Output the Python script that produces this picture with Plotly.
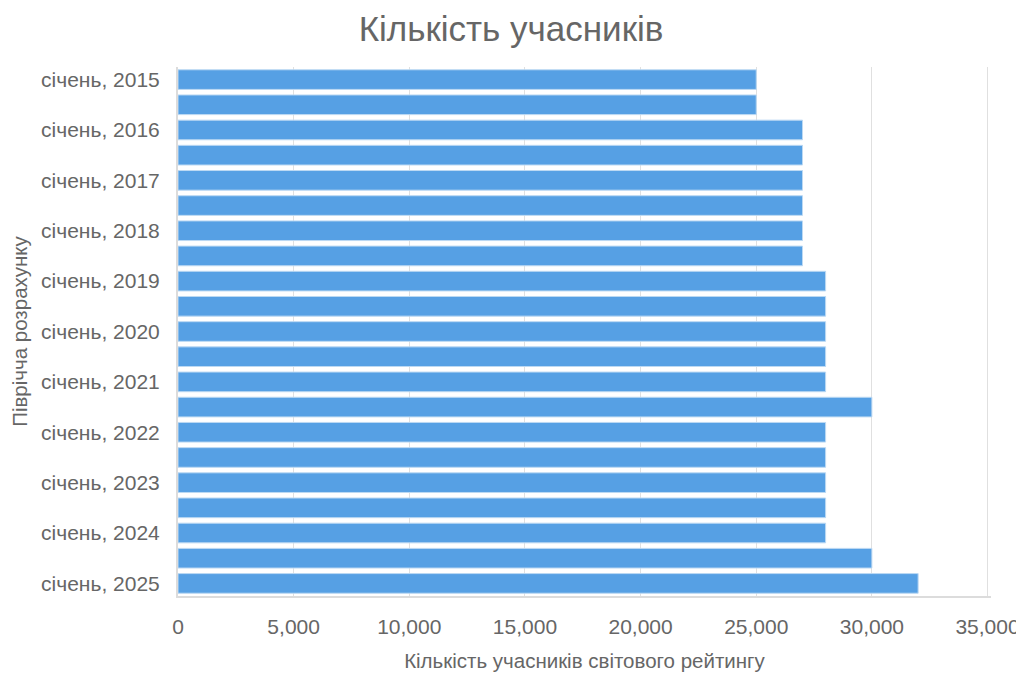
import plotly.graph_objects as go

periods = []
for year in range(2015, 2026):
    periods.append("січень, " + str(year))
    if year < 2025:
        periods.append("липень, " + str(year))

participants = [25000, 25000, 27000, 27000, 27000, 27000, 27000, 27000,
                28000, 28000, 28000, 28000, 28000, 30000, 28000, 28000,
                28000, 28000, 28000, 30000, 32000]

january_labels = [p for p in periods if p.startswith("січень")]

x_ticks = [0, 5000, 10000, 15000, 20000, 25000, 30000, 35000]

fig = go.Figure()
fig.add_trace(go.Bar(
    x=participants, y=periods, orientation="h",
    marker=dict(color="#56a0e4", line=dict(color="#bcd9f3", width=1)),
))

# page body has 8px margin, so the figure starts at (8, 8) in the window
fig.update_layout(
    width=1016, height=667,
    plot_bgcolor="white", paper_bgcolor="white",
    font=dict(family="Liberation Sans, Arial", color="#666666"),
    title=dict(text="Кількість учасників", x=503 / 1016, xanchor="center",
               y=1 - 8 / 667, yanchor="top", pad=dict(t=0),
               font=dict(size=35, color="#666666")),
    margin=dict(l=170, r=33, t=59, b=79),
    bargap=0.22,
    showlegend=False,
)
fig.update_xaxes(
    range=[0, 35150], tickvals=x_ticks, tickformat=",",
    showgrid=True, gridcolor="#e0e0e0", gridwidth=1,
    showline=True, linecolor="#dcdcdc", linewidth=2,
    ticks="", ticklabelstandoff=11, ticklabeloverflow="allow",
    tickfont=dict(size=21), automargin=False,
    title=dict(text="Кількість учасників світового рейтингу", font=dict(size=20.5), standoff=16),
    zeroline=False,
)
fig.update_yaxes(
    categoryorder="array", categoryarray=periods, autorange="reversed",
    tickvals=january_labels, ticktext=january_labels,
    showline=True, linecolor="#dcdcdc", linewidth=2,
    ticks="", ticklabelstandoff=12, automargin=False,
    tickfont=dict(size=21),
    title=dict(text="Піврічча розрахунку", font=dict(size=20.5), standoff=12),
)

fig.write_html("out.html")
